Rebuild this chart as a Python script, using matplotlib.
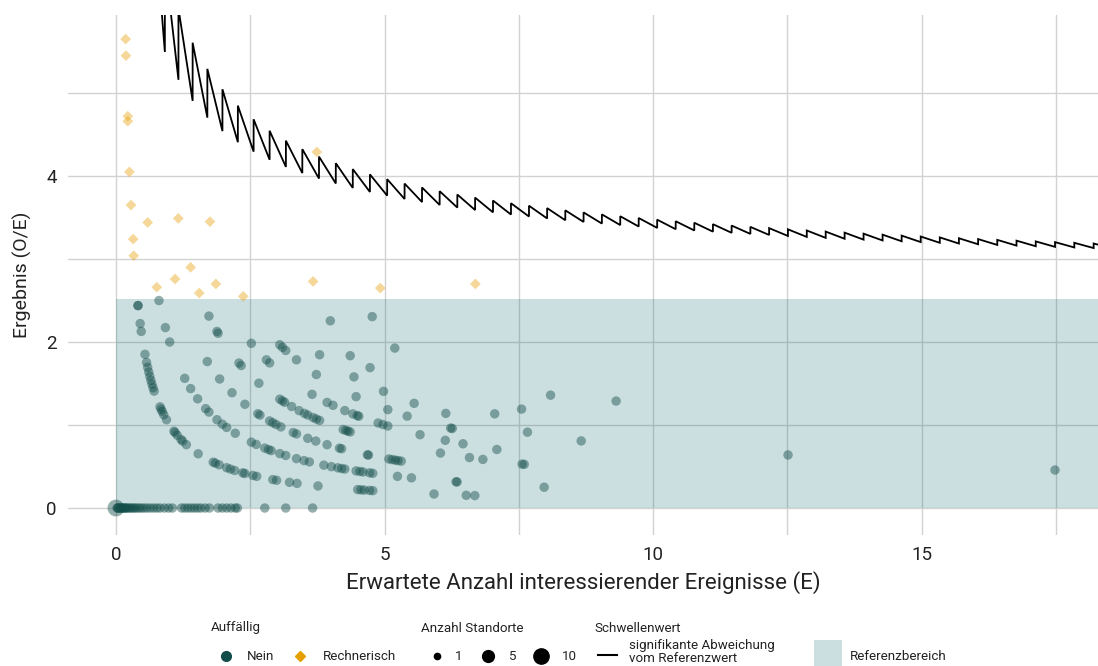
import numpy as np
import matplotlib
matplotlib.use("Agg")
import matplotlib.pyplot as plt
from matplotlib.patches import Rectangle
from matplotlib.lines import Line2D

plt.rcParams['font.family'] = ['Roboto', 'DejaVu Sans']

# Erwartete Anzahl E je Standort, gruppiert nach beobachteter Anzahl O
e_o0 = [0.02, 0.03, 0.05, 0.06, 0.08, 0.10, 0.11, 0.13, 0.15, 0.17, 0.19, 0.21,
        0.24, 0.27, 0.30, 0.33, 0.36, 0.40, 0.44, 0.48, 0.53, 0.58, 0.64, 0.70,
        0.76, 0.82, 0.90, 0.98, 1.05, 1.22, 1.28, 1.34, 1.40, 1.46, 1.52, 1.58,
        1.66, 1.74, 1.90, 1.98, 2.06, 2.14, 2.22, 2.26, 2.77, 3.16, 3.66]
e_o1 = [0.41, 0.41, 0.45, 0.47, 0.54, 0.57, 0.59, 0.61, 0.63, 0.65, 0.67, 0.69,
        0.71, 0.82, 0.84, 0.86, 0.89, 0.94, 1.08, 1.10, 1.14, 1.21, 1.24, 1.31,
        1.53, 1.81, 1.85, 1.92, 2.06, 2.13, 2.21, 2.36, 2.40, 2.55, 2.62, 2.92,
        2.99, 3.23, 3.37, 3.76, 4.50, 4.56, 4.62, 4.72, 4.78, 5.92, 6.52, 6.68]
e_o2 = [0.80, 0.92, 1.00, 1.28, 1.39, 1.52, 1.67, 1.73, 1.88, 1.98, 2.06, 2.22,
        2.52, 2.61, 2.77, 2.84, 2.89, 3.05, 3.16, 3.36, 3.50, 3.60, 3.87, 4.01,
        4.13, 4.20, 4.26, 4.47, 4.54, 4.60, 4.72, 4.78, 5.24, 5.50, 6.33, 6.35,
        7.97]
e_o3 = [1.70, 1.93, 2.16, 2.40, 2.64, 2.68, 2.86, 2.92, 2.98, 3.07, 3.30, 3.36,
        3.57, 3.72, 3.93, 4.16, 4.20, 4.68, 4.70, 5.08, 5.14, 5.20, 5.25, 5.31]
e_o4 = [1.73, 1.88, 1.90, 2.29, 2.33, 2.66, 3.05, 3.10, 3.14, 3.27, 3.41, 3.51,
        3.57, 3.67, 3.73, 3.79, 4.23, 4.28, 4.32, 4.36, 6.04, 6.58, 6.83, 7.56,
        7.60]
e_o5 = [2.52, 2.80, 2.86, 3.65, 3.93, 4.04, 4.26, 4.41, 4.49, 4.52, 4.88, 4.97,
        5.06, 5.66, 6.13, 6.46, 7.09]
e_o6 = [3.05, 3.10, 3.16, 3.36, 3.73, 4.47, 5.06, 5.42, 6.23, 6.26]
e_o7 = [3.79, 4.43, 4.98, 5.55, 6.14, 7.66, 8.66]
e_o8 = [4.36, 4.73, 7.05, 12.51, 17.48]
e_o9 = [3.99, 7.55]
e_o10 = [5.19]
e_o11 = [4.77, 8.09]
e_o12 = [9.31]
e_groups = [e_o0, e_o1, e_o2, e_o3, e_o4, e_o5, e_o6, e_o7, e_o8, e_o9,
            e_o10, e_o11, e_o12]

# mehrere Standorte im Ursprung
multi_e = [0.0]
multi_ratio = [0.0]
multi_n = [8]

# Rechnerisch auffaellige Ergebnisse
rech_e = [0.18, 0.186, 0.22, 0.22, 0.25, 0.28, 0.32, 0.33, 0.59, 1.16, 1.75,
          1.39, 1.10, 0.76, 1.55, 1.86, 2.37, 3.74, 3.67, 4.92, 6.69]
rech_ratio = [5.65, 5.45, 4.72, 4.66, 4.05, 3.65, 3.24, 3.04, 3.44, 3.49, 3.45,
              2.90, 2.76, 2.66, 2.59, 2.70, 2.55, 4.29, 2.73, 2.65, 2.70]

# Schwellenwert: E, an dem die kritische Anzahl von c auf c+1 springt (c = 4, 5, ...)
thr_start_count = 4
thr_jump_e = [0.671, 0.91, 1.163, 1.427, 1.701, 1.982, 2.269, 2.562, 2.86, 3.163,
              3.469, 3.779, 4.092, 4.408, 4.727, 5.048, 5.372, 5.697, 6.025,
              6.354, 6.685, 7.018, 7.353, 7.688, 8.026, 8.364, 8.704, 9.045,
              9.387, 9.73, 10.074, 10.419, 10.765, 11.112, 11.46, 11.809,
              12.158, 12.508, 12.859, 13.211, 13.563, 13.916, 14.27, 14.625,
              14.98, 15.335, 15.691, 16.048, 16.405, 16.763, 17.121, 17.48,
              17.839, 18.199, 18.559]

ref_upper = 2.52

TEAL = '#134e4a'
ORANGE = '#e69f00'
BAND = '#005f66'
GRID = '#d2d2d2'


def site_size(n):
    d = 6.8 + (np.asarray(n) - 1) * 0.76
    return d ** 2


# Punkte zusammenstellen
pts_e = []
pts_r = []
for k, grp in enumerate(e_groups):
    for e in grp:
        pts_e.append(e)
        pts_r.append(k / e)

# Schwellenwertlinie (Zacken)
thr_x = []
thr_y = []
for i, e in enumerate(thr_jump_e):
    c = thr_start_count + i
    thr_x += [e, e]
    thr_y += [c / e, (c + 1) / e]

fig = plt.figure(figsize=(10.98, 6.66), dpi=100)
ax = fig.add_axes([68 / 1098, 131 / 666, 1030 / 1098, 520 / 666])

ax.set_xlim(-0.893, 18.28)
ax.set_ylim(-0.325, 5.94)

# Gitter
for x in [0, 2.5, 5, 7.5, 10, 12.5, 15, 17.5]:
    ax.axvline(x, color=GRID, lw=1.0, zorder=0)
for y in [0, 1, 2, 3, 4, 5]:
    ax.axhline(y, color=GRID, lw=1.0, zorder=0)

# Referenzbereich
ax.add_patch(Rectangle((0, 0), 30, ref_upper, facecolor=BAND, alpha=0.2,
                       edgecolor='none', zorder=1))

ax.scatter(pts_e, pts_r, s=site_size(1), color=TEAL, alpha=0.45,
           edgecolors='none', zorder=3)
ax.scatter(multi_e, multi_ratio, s=site_size(multi_n), color=TEAL, alpha=0.45,
           edgecolors='none', zorder=3)
ax.scatter(rech_e, rech_ratio, s=30, marker='D', color=ORANGE, alpha=0.4,
           edgecolors='none', zorder=3)

ax.plot(thr_x, thr_y, color='black', lw=1.3, zorder=4, solid_joinstyle='miter')

ax.set_xticks([0, 5, 10, 15])
ax.set_yticks([0, 2, 4])
ax.tick_params(length=0, labelsize=13.5, colors='#222222', pad=8)
for sp in ax.spines.values():
    sp.set_visible(False)
ax.set_xlabel('Erwartete Anzahl interessierender Ereignisse (E)', fontsize=16,
              color='#222222', labelpad=5)
ax.set_ylabel('Ergebnis (O/E)', fontsize=14, color='#222222', labelpad=10)

# Legende (Pixelkoordinaten des Bildes)
lg = fig.add_axes([0, 0, 1, 1], facecolor='none')
lg.set_xlim(0, 1098)
lg.set_ylim(666, 0)
lg.axis('off')

tcol = '#222222'
fs = 9.6
lg.text(211, 628, 'Auffällig', fontsize=fs, va='center', ha='left', color=tcol)
lg.text(421, 628, 'Anzahl Standorte', fontsize=fs, va='center', ha='left', color=tcol)
lg.text(594, 628, 'Schwellenwert', fontsize=fs, va='center', ha='left', color=tcol)

lg.plot([226], [656], 'o', ms=7, color=TEAL)
lg.text(247, 656, 'Nein', fontsize=fs, va='center', color=tcol)
lg.plot([300], [656], 'D', ms=5.5, color=ORANGE)
lg.text(323, 656, 'Rechnerisch', fontsize=fs, va='center', color=tcol)

for xk, ms, lab, xl in [(437, 4.5, '1', 455), (488, 8.5, '5', 508), (541, 11, '10', 562)]:
    lg.plot([xk], [656], 'o', ms=ms, color='black')
    lg.text(xl, 656, lab, fontsize=fs, va='center', color=tcol)

lg.add_line(Line2D([598, 617], [655, 655], color='black', lw=1.5))
lg.text(629, 645, 'signifikante Abweichung', fontsize=fs, va='center', color=tcol)
lg.text(629, 658.5, 'vom Referenzwert', fontsize=fs, va='center', color=tcol)

lg.add_patch(Rectangle((814, 640), 28, 30, facecolor=BAND, alpha=0.2,
                       edgecolor='none'))
lg.text(850, 656, 'Referenzbereich', fontsize=fs, va='center', color=tcol)

fig.savefig('out.png', dpi=100)
